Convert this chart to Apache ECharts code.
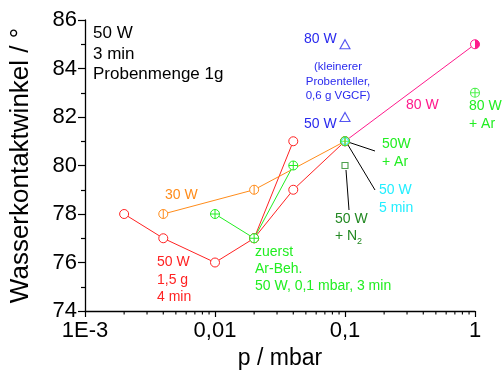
<!DOCTYPE html>
<html><head><meta charset="utf-8">
<script src="https://cdn.jsdelivr.net/npm/echarts@6/dist/echarts.min.js"></script>
<style>html,body{margin:0;padding:0;background:#fff}#c{width:502px;height:370px}</style>
</head><body><div id="c"></div>
<script>
// ---- data ----
const red50X = [0.002, 0.004, 0.01, 0.02, 0.04], red50Y = [78, 77, 76, 77, 81];
const red3X = [0.02, 0.04, 0.1], red3Y = [77, 79, 81];
const or30X = [0.004, 0.02, 0.1], or30Y = [78, 79, 81];
const arX = [0.01, 0.02, 0.04], arY = [78, 77, 80];
const m80X = [0.1, 1], m80Y = [81, 85];
const ar80X = [1], ar80Y = [83];
const blueX = [0.1, 0.1], blueY = [85, 82];
const n2X = [0.1], n2Y = [80];
const cyanX = [0.1], cyanY = [81];
const ar50X = [0.1], ar50Y = [81];
const xTickValues = [0.001, 0.01, 0.1, 1];
const xTickLabels = ['1E-3', '0,01', '0,1', '1'];
const xMinorValues = [0.002,0.003,0.004,0.005,0.006,0.007,0.008,0.009,
                      0.02,0.03,0.04,0.05,0.06,0.07,0.08,0.09,
                      0.2,0.3,0.4,0.5,0.6,0.7,0.8,0.9];

const zip = (xs, ys) => xs.map((x, i) => [x, ys[i]]);
const FONT = 'Liberation Sans, Arial, sans-serif';
const C = {red:'#ff2222', orange:'#ff8c1a', green:'#22ee22', magenta:'#ff1a8c',
           blue:'#2a2aee', cyan:'#22eeff', dgreen:'#228822'};
const circ = 'path://M10,0A10,10,0,1,1,10,20A10,10,0,1,1,10,0Z';
const circV = circ + 'M10,0L10,20';
const circPlus = circ + 'M10,0L10,20M0,10L20,10';
const tri = 'path://M10,0L20,17L0,17Z';
const sq = 'path://M0,0L20,0L20,20L0,20Z';
const dia = 'path://M10,0L20,10L10,20L0,10Z';

function lineSeries(data, color, symbol, size, z) {
  return {type:'line', data, symbol, symbolSize:size, z:z||2, silent:true,
    lineStyle:{color, width:1},
    itemStyle:{color:'#fff', borderColor:color, borderWidth:1},
    emphasis:{disabled:true}, animation:false};
}
function pts(data, color, symbol, size, z) {
  return {type:'scatter', data, symbol, symbolSize:size, z:z||3, silent:true,
    itemStyle:{color:'rgba(255,255,255,0)', borderColor:color, borderWidth:1.1}};
}

const chart = echarts.init(document.getElementById('c'), null, {renderer:'canvas'});

function txt(x, y, text, color, size, align) {
  return {type:'text', x, y, silent:true,
    style:{text, fill:color, fontSize:size, fontFamily:FONT, verticalAlign:'middle', align:align||'left'}};
}
function ln(x1, y1, x2, y2) {
  return {type:'line', silent:true, shape:{x1,y1,x2,y2}, style:{stroke:'#000', lineWidth:1}};
}

const graphics = [
  txt(93, 33, '50 W', '#000', 17), txt(93, 54, '3 min', '#000', 17), txt(93, 74, 'Probenmenge 1g', '#000', 17),
  txt(165, 195, '30 W', C.orange, 14),
  txt(157, 262, '50 W', C.red, 14), txt(157, 280, '1,5 g', C.red, 14), txt(157, 297, '4 min', C.red, 14),
  txt(255, 252, 'zuerst', C.green, 14), txt(255, 269, 'Ar-Beh.', C.green, 14), txt(255, 286, '50 W, 0,1 mbar, 3 min', C.green, 14),
  txt(335, 219, '50 W', C.dgreen, 14), txt(335, 236, '+ N', C.dgreen, 14), txt(357, 242, '2', C.dgreen, 9),
  txt(379, 190, '50 W', C.cyan, 14), txt(379, 208, '5 min', C.cyan, 14),
  txt(382, 144, '50W', C.green, 14), txt(382, 162, '+ Ar', C.green, 14),
  txt(469, 106, '80 W', C.green, 14), txt(469, 124, '+ Ar', C.green, 14),
  txt(406, 105, '80 W', C.magenta, 14),
  txt(304, 39, '80 W', C.blue, 14),
  txt(338, 67, '(kleinerer', C.blue, 11.5, 'center'), txt(338, 82, 'Probenteller,', C.blue, 11.5, 'center'),
  txt(338, 96, '0,6 g VGCF)', C.blue, 11.5, 'center'),
  txt(304, 124, '50 W', C.blue, 14),
  ln(348, 142, 375, 151), ln(348, 145, 375, 190), ln(346, 170, 349, 210)
];

chart.setOption({
  animation:false,
  backgroundColor:'#fff',
  grid:{left:85, right:27, top:20, bottom:59, containLabel:false, outerBoundsMode:'none'},
  xAxis:{type:'log', logBase:10, min:0.001, max:1,
    axisLine:{show:true, lineStyle:{color:'#000', width:1.3}},
    axisTick:{show:true, length:6, inside:false, lineStyle:{color:'#000', width:1.2}},
    minorTick:{show:false},
    splitLine:{show:false},
    axisLabel:{fontSize:22, color:'#000', fontFamily:FONT, margin:9,
      formatter:(v)=>{ const i = xTickValues.findIndex(t=>Math.abs(Math.log10(t)-Math.log10(v))<1e-6); return i>=0?xTickLabels[i]:''; }},
    name:'p / mbar', nameLocation:'middle', nameGap:30,
    nameTextStyle:{fontSize:23, color:'#000', fontFamily:FONT}},
  yAxis:{type:'value', min:74, max:86, interval:2,
    axisLine:{show:true, lineStyle:{color:'#000', width:1.3}},
    axisTick:{show:true, length:7, lineStyle:{color:'#000', width:1.2}},
    minorTick:{show:true, splitNumber:2, length:4, lineStyle:{color:'#000', width:1.2}},
    splitLine:{show:false},
    axisLabel:{fontSize:22, color:'#000', fontFamily:FONT, margin:8},
    name:'Wasserkontaktwinkel / °', nameLocation:'middle', nameGap:51, nameRotate:90,
    nameTextStyle:{fontSize:26, color:'#000', fontFamily:FONT}},
  graphic:graphics,
  series:[
    {type:'custom', data:xMinorValues.map(v=>[v,74]), clip:false, silent:true, z:1,
      renderItem:(params, api)=>{ const p = api.coord([api.value(0), 74]);
        return {type:'line', shape:{x1:p[0], y1:p[1], x2:p[0], y2:p[1]+3.5}, style:{stroke:'#000', lineWidth:1.1}}; }},
    lineSeries(zip(m80X, m80Y), C.magenta, circ, 9, 2),
    {type:'custom', data:[zip(m80X, m80Y)[1]], clip:false, silent:true, z:3,
      renderItem:(params, api)=>{ const p = api.coord([api.value(0), api.value(1)]);
        return {type:'sector', shape:{cx:p[0], cy:p[1], r:4.5, r0:0, startAngle:-Math.PI/2, endAngle:Math.PI/2}, style:{fill:C.magenta}}; }},
    lineSeries(zip(red50X, red50Y), C.red, circ, 9, 2),
    lineSeries(zip(red3X, red3Y), C.red, circ, 9, 2),
    lineSeries(zip(or30X, or30Y), C.orange, circV, 9, 3),
    lineSeries(zip(arX, arY), C.green, circPlus, 9, 4),
    pts(zip(ar80X, ar80Y), C.green, circPlus, 9),
    pts(zip(blueX, blueY), C.blue, tri, [10, 9]),
    pts(zip(n2X, n2Y), C.dgreen, sq, 6),
    pts(zip(cyanX, cyanY), C.cyan, dia, 9, 4),
    pts(zip(ar50X, ar50Y), C.green, circPlus, 9, 5)
  ]
});
</script></body></html>
